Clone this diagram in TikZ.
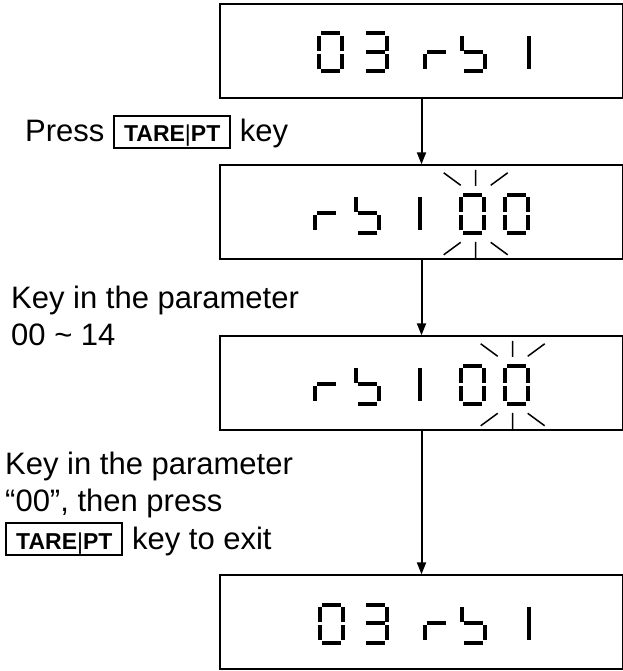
\documentclass[tikz,border=0pt]{standalone}
\usepackage{fontspec}
\setmainfont{Liberation Sans}
\usetikzlibrary{arrows.meta}

% seven-segment pieces, cell 27 x 42, y pointing down
\def\lcdsega{(4,0) rectangle (23,4)}
\def\lcdsegb{(23,4.5) rectangle (27,19.5)}
\def\lcdsegc{(23,22.5) rectangle (27,37.5)}
\def\lcdsegd{(4,38) rectangle (23,42)}
\def\lcdsege{(0,22.5) rectangle (4,37.5)}
\def\lcdsegf{(0,4.5) rectangle (4,19.5)}
\def\lcdsegg{(4,18.5) rectangle (23,22.5)}
\def\lcdsegl{(0,4.5) rectangle (4,37.5)}

\newcommand{\lcdchar}[3]{%
  \foreach \s in {#3} {\fill[shift={(#1,#2)}] \csname lcdseg\s\endcsname;}}

% rays round a flashing digit
\newcommand{\blinkrays}[2]{%
  \draw[ray, shift={(#1,#2)}] (0,-44) -- (0,-28) (-32,-41) -- (-15,-28.5) (32,-41) -- (15,-28.5)
    (0,28) -- (0,44) (-32,41) -- (-15,28.5) (32,41) -- (15,28.5);}

\newcommand{\tarekey}{{\setlength{\fboxrule}{2pt}\setlength{\fboxsep}{0pt}%
  \fbox{\hspace{9pt}\rule[-5pt]{0pt}{30pt}\fontsize{23}{23}\selectfont\bfseries TARE\textmd{|}PT\hspace{9pt}}}}

\begin{document}
\begin{tikzpicture}[
    x=1pt, y=-1pt,
    lcd/.style={draw, line width=2pt, minimum width=403pt, minimum height=94pt, inner sep=0pt},
    arrow/.style={-{Triangle[length=12pt, width=9pt]}, line width=2pt},
    ray/.style={line width=1.5pt},
    note/.style={anchor=base west, inner sep=0pt, align=left, font=\fontsize{31}{37.5}\selectfont},
]
    \useasboundingbox (0,0) rectangle (622,671);

    % Displays
    \node[lcd] (show1) at (421.5,50.8) {};
    \node[lcd] (show2) at (421.5,212.3) {};
    \node[lcd] (show3) at (421.5,383.3) {};
    \node[lcd] (show4) at (421.5,622.3) {};

    % 03 rb 1
    \lcdchar{316.7}{31.3}{a,b,c,d,e,f}
    \lcdchar{361.7}{31.3}{a,b,c,d,g}
    \lcdchar{423}{31.3}{e,g}
    \lcdchar{460}{31.3}{f,g,c,d}
    \lcdchar{526.7}{31.3}{l}

    % rb 1 00, first digit flashing
    \lcdchar{313}{192.8}{e,g}
    \lcdchar{354}{192.8}{f,g,c,d}
    \lcdchar{418}{192.8}{l}
    \lcdchar{459}{192.8}{a,b,c,d,e,f}
    \lcdchar{503}{192.8}{a,b,c,d,e,f}
    \blinkrays{475.7}{213.8}

    % rb 1 00, second digit flashing
    \lcdchar{313}{363.8}{e,g}
    \lcdchar{354}{363.8}{f,g,c,d}
    \lcdchar{418}{363.8}{l}
    \lcdchar{459}{363.8}{a,b,c,d,e,f}
    \lcdchar{503}{363.8}{a,b,c,d,e,f}
    \blinkrays{512.7}{384.8}

    % 03 rb 1 again
    \lcdchar{318}{602.8}{a,b,c,d,e,f}
    \lcdchar{362}{602.8}{a,b,c,d,g}
    \lcdchar{423}{602.8}{e,g}
    \lcdchar{460}{602.8}{f,g,c,d}
    \lcdchar{527}{602.8}{l}

    % Notes (base = last line)
    \node[note] (press) at (25,142) {Press \tarekey{} key};
    \node[note] (param) at (11,345.5) {Key in the parameter\\00 \textasciitilde{} 14};
    \node[note] (exit) at (5,549) {Key in the parameter\\“00”, then press\\\tarekey{} key to exit};

    % Arrows
    \draw[arrow] (show1) -- (show2);
    \draw[arrow] (show2) -- (show3);
    \draw[arrow] (show3) -- (show4);
\end{tikzpicture}
\end{document}
